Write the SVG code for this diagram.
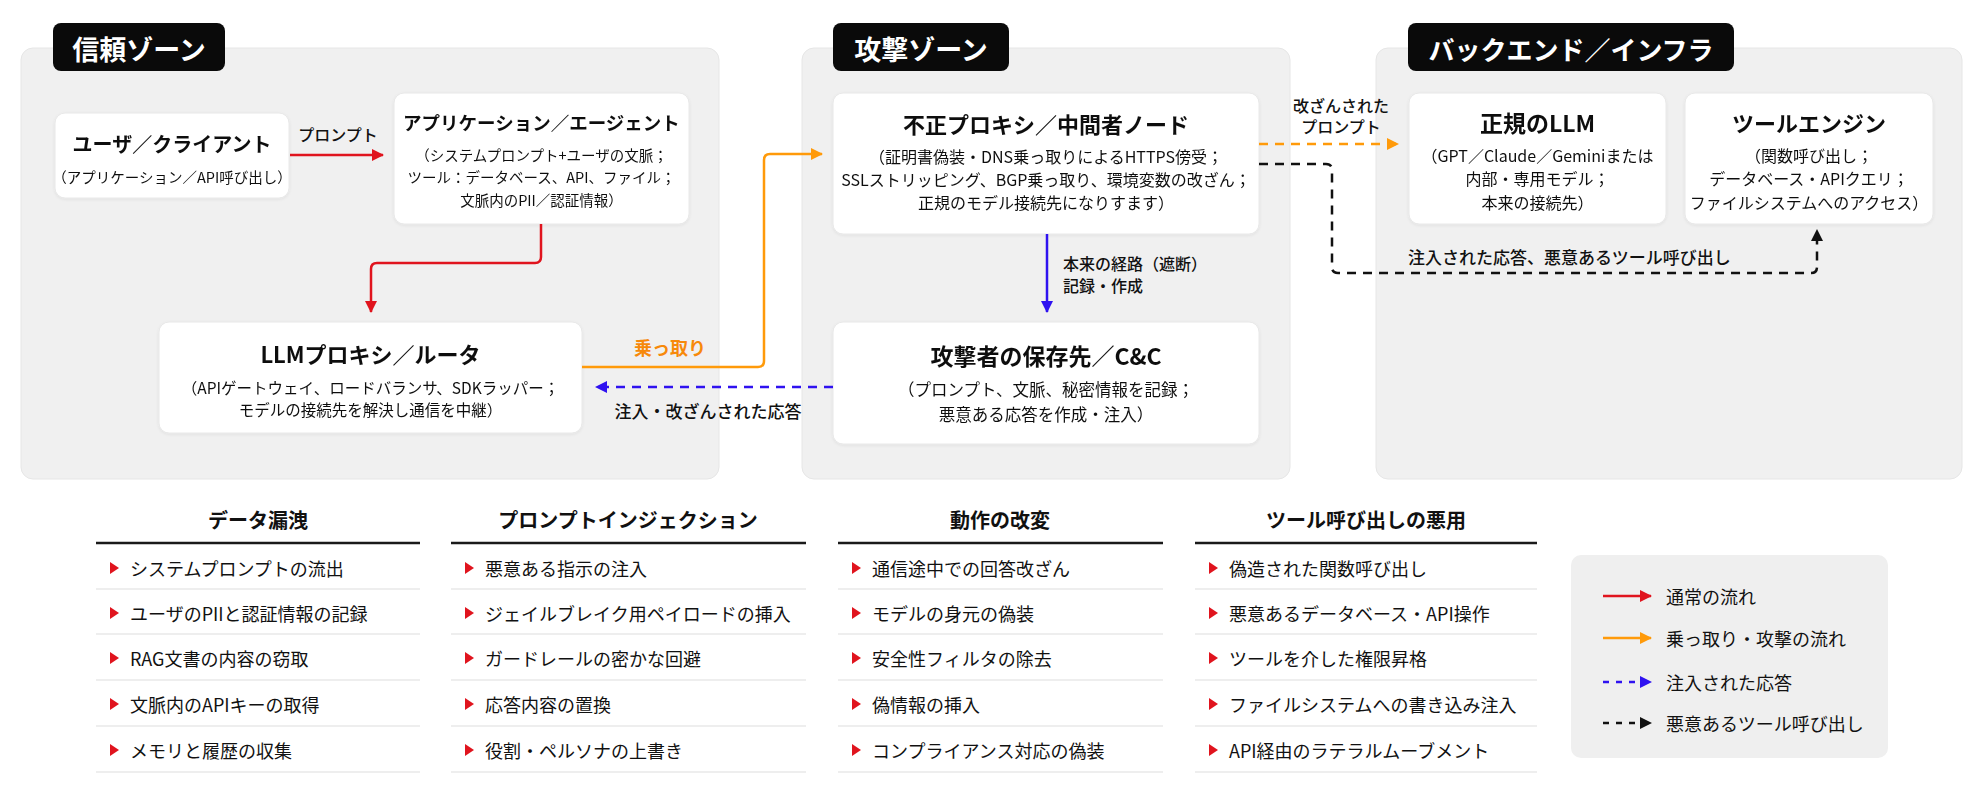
<svg xmlns="http://www.w3.org/2000/svg" width="1986" height="792" viewBox="0 0 1986 792">
<style>
text{font-family:"Noto Sans CJK JP","Noto Sans",sans-serif;fill:#111;}
.zone{fill:#f0f0f0;stroke:#e6e6e6;stroke-width:1;}
.badge{fill:#0a0a0a;}
.badgeT{fill:#fff;font-size:27px;font-weight:700;}
.node{fill:#fff;stroke:#e8e8e8;stroke-width:1;}
.t{font-weight:700;text-anchor:middle;dominant-baseline:central;}
.s{text-anchor:middle;dominant-baseline:central;font-size:16px;}
.lbl{font-size:16px;dominant-baseline:central;font-weight:500;}
.red{stroke:#e0141e;stroke-width:2.5;fill:none;}
.org{stroke:#ff9a0a;stroke-width:2.5;fill:none;}
.blu{stroke:#2f12f0;stroke-width:2.5;fill:none;stroke-dasharray:9 7;}
.blk{stroke:#111;stroke-width:2.5;fill:none;stroke-dasharray:9 7;}
.orgd{stroke:#ff9a0a;stroke-width:2.5;fill:none;stroke-dasharray:9 7;}
.hdr{font-size:20px;font-weight:700;text-anchor:middle;dominant-baseline:central;}
.it{font-size:18px;dominant-baseline:central;}
.ul{stroke:#1a1a1a;stroke-width:2.5;}
.sep{stroke:#e8e8e8;stroke-width:1.5;}
.bul{fill:#e0141e;}
.lg{font-size:18px;dominant-baseline:central;}
</style>
<defs>
<filter id="sh" x="-5%" y="-5%" width="110%" height="115%">
<feDropShadow dx="0" dy="1" stdDeviation="1.5" flood-color="#000" flood-opacity="0.07"/>
</filter>
<marker id="aR" viewBox="0 0 12 12" refX="11" refY="6" markerWidth="12" markerHeight="12" markerUnits="userSpaceOnUse" orient="auto"><path d="M0,0 L12,6 L0,12 z" fill="#e0141e"/></marker>
<marker id="aO" viewBox="0 0 12 12" refX="11" refY="6" markerWidth="12" markerHeight="12" markerUnits="userSpaceOnUse" orient="auto"><path d="M0,0 L12,6 L0,12 z" fill="#ff9a0a"/></marker>
<marker id="aB" viewBox="0 0 12 12" refX="11" refY="6" markerWidth="12" markerHeight="12" markerUnits="userSpaceOnUse" orient="auto"><path d="M0,0 L12,6 L0,12 z" fill="#2f12f0"/></marker>
<marker id="aK" viewBox="0 0 12 12" refX="11" refY="6" markerWidth="12" markerHeight="12" markerUnits="userSpaceOnUse" orient="auto"><path d="M0,0 L12,6 L0,12 z" fill="#111"/></marker>
</defs>
<rect width="1986" height="792" fill="#ffffff"/>

<g id="zone-trust">
<rect class="zone" x="21" y="48" width="698" height="431" rx="12"/>
<rect class="badge" x="53" y="23" width="172" height="48" rx="8"/>
<text class="badgeT" x="139" y="48" text-anchor="middle" dominant-baseline="central">信頼ゾーン</text>
</g>
<g id="zone-attack">
<rect class="zone" x="802" y="48" width="488" height="431" rx="12"/>
<rect class="badge" x="833" y="23" width="176" height="48" rx="8"/>
<text class="badgeT" x="921" y="48" text-anchor="middle" dominant-baseline="central">攻撃ゾーン</text>
</g>
<g id="zone-backend">
<rect class="zone" x="1376" y="48" width="586" height="431" rx="12"/>
<rect class="badge" x="1408" y="23" width="326" height="48" rx="8"/>
<text class="badgeT" x="1571" y="48" text-anchor="middle" dominant-baseline="central" style="font-size:26px">バックエンド／インフラ</text>
</g>

<g id="node-user" filter="url(#sh)">
<rect class="node" x="55" y="113" width="234" height="85" rx="10"/>
<text class="t" x="172" y="143" style="font-size:20px">ユーザ／クライアント</text>
<text class="s" x="172" y="176" style="font-size:14.5px">（アプリケーション／API呼び出し）</text>
</g>
<g id="node-app" filter="url(#sh)">
<rect class="node" x="394" y="93" width="295" height="131" rx="10"/>
<text class="t" x="541.5" y="122" style="font-size:18.5px">アプリケーション／エージェント</text>
<text class="s" x="541.5" y="154" style="font-size:14.5px">（システムプロンプト+ユーザの文脈；</text>
<text class="s" x="541.5" y="176" style="font-size:14.5px">ツール：データベース、API、ファイル；</text>
<text class="s" x="541.5" y="199" style="font-size:14.5px">文脈内のPII／認証情報）</text>
</g>
<g id="node-proxy" filter="url(#sh)">
<rect class="node" x="159" y="322" width="423" height="111" rx="10"/>
<text class="t" x="370.5" y="353" style="font-size:22px">LLMプロキシ／ルータ</text>
<text class="s" x="370.5" y="387" style="font-size:15.5px">（APIゲートウェイ、ロードバランサ、SDKラッパー；</text>
<text class="s" x="370.5" y="409" style="font-size:15.5px">モデルの接続先を解決し通信を中継）</text>
</g>
<g id="node-rogue" filter="url(#sh)">
<rect class="node" x="833" y="93" width="426" height="141" rx="10"/>
<text class="t" x="1046" y="123" style="font-size:22px">不正プロキシ／中間者ノード</text>
<text class="s" x="1046" y="156" style="font-size:16px">（証明書偽装・DNS乗っ取りによるHTTPS傍受；</text>
<text class="s" x="1046" y="179" style="font-size:16px">SSLストリッピング、BGP乗っ取り、環境変数の改ざん；</text>
<text class="s" x="1046" y="202" style="font-size:16px">正規のモデル接続先になりすます）</text>
</g>
<g id="node-attacker" filter="url(#sh)">
<rect class="node" x="833" y="322" width="426" height="122" rx="10"/>
<text class="t" x="1046" y="355" style="font-size:23px">攻撃者の保存先／C&amp;C</text>
<text class="s" x="1046" y="389" style="font-size:16.5px">（プロンプト、文脈、秘密情報を記録；</text>
<text class="s" x="1046" y="414" style="font-size:16.5px">悪意ある応答を作成・注入）</text>
</g>
<g id="node-llm" filter="url(#sh)">
<rect class="node" x="1409" y="93" width="257" height="131" rx="10"/>
<text class="t" x="1537.5" y="122" style="font-size:23px">正規のLLM</text>
<text class="s" x="1537.5" y="155">（GPT／Claude／Geminiまたは</text>
<text class="s" x="1537.5" y="178">内部・専用モデル；</text>
<text class="s" x="1537.5" y="202">本来の接続先）</text>
</g>
<g id="node-tool" filter="url(#sh)">
<rect class="node" x="1685" y="93" width="248" height="131" rx="10"/>
<text class="t" x="1809" y="122" style="font-size:22px">ツールエンジン</text>
<text class="s" x="1809" y="155">（関数呼び出し；</text>
<text class="s" x="1809" y="178">データベース・APIクエリ；</text>
<text class="s" x="1809" y="202">ファイルシステムへのアクセス）</text>
</g>

<g id="connectors">
<path class="red" d="M290,155 L383,155" marker-end="url(#aR)"/>
<text class="lbl" x="338" y="134" text-anchor="middle">プロンプト</text>
<path class="red" d="M541,224 L541,257 Q541,263 535,263 L377,263 Q371,263 371,269 L371,312" marker-end="url(#aR)"/>
<path class="org" d="M582,367 L758,367 Q764,367 764,361 L764,160 Q764,154 770,154 L822,154" marker-end="url(#aO)"/>
<text x="670" y="347" text-anchor="middle" dominant-baseline="central" style="font-size:18px;font-weight:700;fill:#f7890a">乗っ取り</text>
<path class="blu" d="M833,387 L596,387" marker-end="url(#aB)"/>
<text class="lbl" x="708" y="410" text-anchor="middle" style="font-size:17px">注入・改ざんされた応答</text>
<path class="red" d="M1047,234 L1047,312" style="stroke:#2f12f0" marker-end="url(#aB)"/>
<text class="lbl" x="1063" y="263">本来の経路（遮断）</text>
<text class="lbl" x="1063" y="285">記録・作成</text>
<path class="orgd" d="M1259,144 L1398,144" marker-end="url(#aO)"/>
<text class="lbl" x="1341" y="105" text-anchor="middle">改ざんされた</text>
<text class="lbl" x="1341" y="126" text-anchor="middle">プロンプト</text>
<path class="blk" d="M1259,164 L1326,164 Q1332,164 1332,170 L1332,267 Q1332,273 1338,273 L1811,273 Q1817,273 1817,267 L1817,230" marker-end="url(#aK)"/>
<text class="lbl" x="1408" y="256" style="font-size:17px">注入された応答、悪意あるツール呼び出し</text>
</g>

<g id="list-leak">
<text class="hdr" x="258" y="519">データ漏洩</text>
<line class="ul" x1="96" y1="543" x2="420" y2="543"/>
<path class="bul" d="M110,562 L119,568 L110,574 z"/><text class="it" x="130" y="568">システムプロンプトの流出</text>
<line class="sep" x1="96" y1="589" x2="420" y2="589"/>
<path class="bul" d="M110,607 L119,613 L110,619 z"/><text class="it" x="130" y="613">ユーザのPIIと認証情報の記録</text>
<line class="sep" x1="96" y1="634" x2="420" y2="634"/>
<path class="bul" d="M110,652 L119,658 L110,664 z"/><text class="it" x="130" y="658">RAG文書の内容の窃取</text>
<line class="sep" x1="96" y1="680" x2="420" y2="680"/>
<path class="bul" d="M110,698 L119,704 L110,710 z"/><text class="it" x="130" y="704">文脈内のAPIキーの取得</text>
<line class="sep" x1="96" y1="726" x2="420" y2="726"/>
<path class="bul" d="M110,744 L119,750 L110,756 z"/><text class="it" x="130" y="750">メモリと履歴の収集</text>
<line class="sep" x1="96" y1="772" x2="420" y2="772"/>
</g>

<g id="list-injection">
<text class="hdr" x="628" y="519">プロンプトインジェクション</text>
<line class="ul" x1="451" y1="543" x2="806" y2="543"/>
<path class="bul" d="M465,562 L474,568 L465,574 z"/><text class="it" x="485" y="568">悪意ある指示の注入</text>
<line class="sep" x1="451" y1="589" x2="806" y2="589"/>
<path class="bul" d="M465,607 L474,613 L465,619 z"/><text class="it" x="485" y="613">ジェイルブレイク用ペイロードの挿入</text>
<line class="sep" x1="451" y1="634" x2="806" y2="634"/>
<path class="bul" d="M465,652 L474,658 L465,664 z"/><text class="it" x="485" y="658">ガードレールの密かな回避</text>
<line class="sep" x1="451" y1="680" x2="806" y2="680"/>
<path class="bul" d="M465,698 L474,704 L465,710 z"/><text class="it" x="485" y="704">応答内容の置換</text>
<line class="sep" x1="451" y1="726" x2="806" y2="726"/>
<path class="bul" d="M465,744 L474,750 L465,756 z"/><text class="it" x="485" y="750">役割・ペルソナの上書き</text>
<line class="sep" x1="451" y1="772" x2="806" y2="772"/>
</g>

<g id="list-behavior">
<text class="hdr" x="1000" y="519">動作の改変</text>
<line class="ul" x1="838" y1="543" x2="1163" y2="543"/>
<path class="bul" d="M852,562 L861,568 L852,574 z"/><text class="it" x="872" y="568">通信途中での回答改ざん</text>
<line class="sep" x1="838" y1="589" x2="1163" y2="589"/>
<path class="bul" d="M852,607 L861,613 L852,619 z"/><text class="it" x="872" y="613">モデルの身元の偽装</text>
<line class="sep" x1="838" y1="634" x2="1163" y2="634"/>
<path class="bul" d="M852,652 L861,658 L852,664 z"/><text class="it" x="872" y="658">安全性フィルタの除去</text>
<line class="sep" x1="838" y1="680" x2="1163" y2="680"/>
<path class="bul" d="M852,698 L861,704 L852,710 z"/><text class="it" x="872" y="704">偽情報の挿入</text>
<line class="sep" x1="838" y1="726" x2="1163" y2="726"/>
<path class="bul" d="M852,744 L861,750 L852,756 z"/><text class="it" x="872" y="750">コンプライアンス対応の偽装</text>
<line class="sep" x1="838" y1="772" x2="1163" y2="772"/>
</g>

<g id="list-tools">
<text class="hdr" x="1366" y="519">ツール呼び出しの悪用</text>
<line class="ul" x1="1195" y1="543" x2="1537" y2="543"/>
<path class="bul" d="M1209,562 L1218,568 L1209,574 z"/><text class="it" x="1229" y="568">偽造された関数呼び出し</text>
<line class="sep" x1="1195" y1="589" x2="1537" y2="589"/>
<path class="bul" d="M1209,607 L1218,613 L1209,619 z"/><text class="it" x="1229" y="613">悪意あるデータベース・API操作</text>
<line class="sep" x1="1195" y1="634" x2="1537" y2="634"/>
<path class="bul" d="M1209,652 L1218,658 L1209,664 z"/><text class="it" x="1229" y="658">ツールを介した権限昇格</text>
<line class="sep" x1="1195" y1="680" x2="1537" y2="680"/>
<path class="bul" d="M1209,698 L1218,704 L1209,710 z"/><text class="it" x="1229" y="704">ファイルシステムへの書き込み注入</text>
<line class="sep" x1="1195" y1="726" x2="1537" y2="726"/>
<path class="bul" d="M1209,744 L1218,750 L1209,756 z"/><text class="it" x="1229" y="750">API経由のラテラルムーブメント</text>
<line class="sep" x1="1195" y1="772" x2="1537" y2="772"/>
</g>

<g id="legend">
<rect x="1571" y="555" width="317" height="203" rx="10" fill="#efefef"/>
<line x1="1603" y1="596" x2="1651" y2="596" class="red" marker-end="url(#aR)"/>
<text class="lg" x="1666" y="596">通常の流れ</text>
<line x1="1603" y1="638" x2="1651" y2="638" class="org" marker-end="url(#aO)"/>
<text class="lg" x="1666" y="638">乗っ取り・攻撃の流れ</text>
<line x1="1603" y1="682" x2="1651" y2="682" class="blu" style="stroke-dasharray:6 7" marker-end="url(#aB)"/>
<text class="lg" x="1666" y="682">注入された応答</text>
<line x1="1603" y1="723" x2="1651" y2="723" class="blk" style="stroke-dasharray:6 7" marker-end="url(#aK)"/>
<text class="lg" x="1666" y="723">悪意あるツール呼び出し</text>
</g>
</svg>
